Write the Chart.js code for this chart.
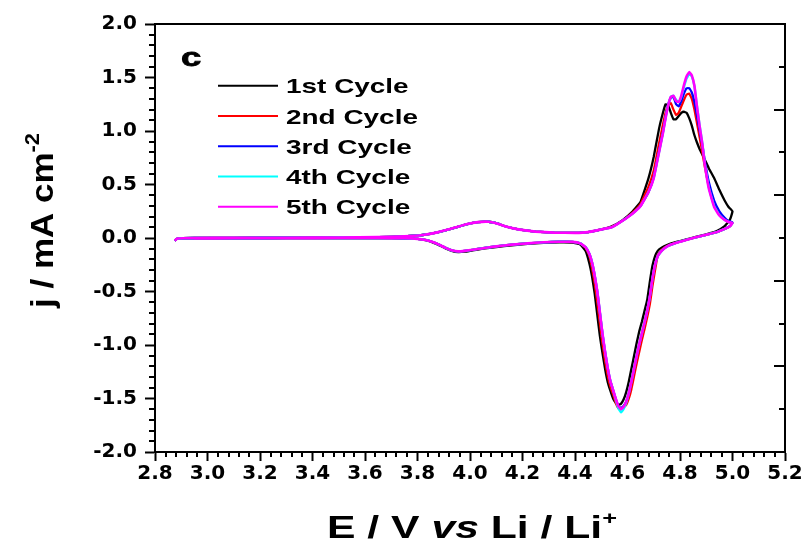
<!DOCTYPE html>
<html>
<head>
<meta charset="utf-8">
<script src="https://cdn.jsdelivr.net/npm/chart.js@4.4.1/dist/chart.umd.min.js"></script>
<style>
html,body{margin:0;padding:0;background:#fff;}
#wrap{width:807px;height:546px;position:relative;}
</style>
</head>
<body>
<div id="wrap"><canvas id="c"></canvas></div>
<script>
// ---- data (potential in V vs Li/Li+, current density in mA cm^-2) ----
const scanUp = [2.875,2.885,2.95,3.1,3.3,3.5,3.65,3.75,3.82,3.88,3.94,3.99,4.03,4.07,4.1,4.14,4.19,4.25,4.32,4.4,4.45,4.5,4.54,4.58,
  4.62,4.65,4.68,4.7,4.72,4.735,4.745,4.755,4.765,4.775,4.785,4.795,4.805,4.815,4.825,4.835,4.845,4.855,4.865,4.875,4.885,4.895,4.91,4.93,4.95,4.97,4.985,5.0];
const scanDown = [4.99,4.97,4.94,4.9,4.86,4.82,4.78,4.75,4.73,4.715,4.705,4.695,4.685,4.675,4.665,4.655,4.645,4.635,4.625,4.615,4.605,4.595,4.585,4.575,
  4.565,4.555,4.545,4.535,4.525,4.515,4.505,4.495,4.485,4.475,4.465,4.455,4.44,4.42,4.39,4.34,4.28,4.22,4.16,4.1,4.05,4.01,3.98,3.955,3.93,3.905,3.88,3.855,3.83,3.8,3.75,3.65,3.5,3.3,3.1,2.95];

const cycle1Up = [-0.025,-0.005,0.0,0.002,0.003,0.005,0.008,0.015,0.028,0.055,0.095,0.13,0.148,0.152,0.138,0.105,0.078,0.06,0.05,0.048,0.055,0.08,0.11,0.165,
  0.25,0.34,0.56,0.76,1.02,1.17,1.25,1.24,1.17,1.11,1.11,1.14,1.17,1.18,1.17,1.12,1.05,0.96,0.89,0.83,0.78,0.73,0.65,0.56,0.45,0.35,0.29,0.25];
const cycle1Down = [0.17,0.11,0.065,0.035,0.01,-0.015,-0.04,-0.065,-0.09,-0.12,-0.17,-0.26,-0.41,-0.58,-0.68,-0.78,-0.87,-0.98,-1.1,-1.22,-1.34,-1.44,-1.51,-1.55,
  -1.56,-1.54,-1.5,-1.43,-1.35,-1.23,-1.08,-0.92,-0.72,-0.52,-0.36,-0.24,-0.12,-0.06,-0.042,-0.04,-0.045,-0.055,-0.068,-0.085,-0.1,-0.115,-0.128,-0.132,-0.12,-0.095,-0.065,-0.038,-0.02,-0.009,-0.004,0.0,0.0,-0.002,-0.003,-0.004];

const cycle2Up = [-0.025,-0.005,0.0,0.002,0.003,0.005,0.008,0.015,0.028,0.055,0.095,0.13,0.148,0.152,0.138,0.105,0.078,0.06,0.05,0.048,0.055,0.08,0.105,0.16,
  0.24,0.32,0.48,0.63,0.88,1.06,1.17,1.24,1.26,1.2,1.15,1.17,1.23,1.29,1.34,1.35,1.3,1.2,1.07,0.94,0.8,0.66,0.48,0.31,0.22,0.175,0.15,0.14];
const cycle2Down = [0.11,0.085,0.055,0.03,0.006,-0.02,-0.048,-0.075,-0.11,-0.16,-0.3,-0.45,-0.62,-0.74,-0.85,-0.95,-1.06,-1.17,-1.29,-1.41,-1.5,-1.56,-1.58,-1.59,
  -1.59,-1.54,-1.46,-1.39,-1.29,-1.15,-0.99,-0.8,-0.6,-0.42,-0.28,-0.17,-0.09,-0.052,-0.036,-0.035,-0.04,-0.05,-0.062,-0.078,-0.095,-0.11,-0.12,-0.125,-0.115,-0.09,-0.06,-0.035,-0.018,-0.008,-0.003,0.0,0.0,-0.002,-0.003,-0.004];

const cycle3Up = [-0.025,-0.005,0.0,0.002,0.003,0.005,0.008,0.015,0.028,0.055,0.095,0.13,0.148,0.152,0.138,0.105,0.078,0.06,0.05,0.048,0.055,0.08,0.1,0.16,
  0.23,0.30,0.43,0.57,0.81,0.99,1.13,1.25,1.31,1.32,1.25,1.23,1.28,1.35,1.40,1.40,1.36,1.27,1.14,1.0,0.87,0.71,0.52,0.35,0.25,0.19,0.16,0.145];
const cycle3Down = [0.11,0.085,0.055,0.03,0.006,-0.02,-0.05,-0.08,-0.12,-0.17,-0.25,-0.38,-0.55,-0.68,-0.79,-0.89,-0.99,-1.1,-1.22,-1.34,-1.45,-1.53,-1.57,-1.59,
  -1.57,-1.5,-1.42,-1.34,-1.22,-1.07,-0.9,-0.7,-0.5,-0.35,-0.23,-0.15,-0.085,-0.05,-0.036,-0.035,-0.04,-0.05,-0.062,-0.078,-0.095,-0.11,-0.12,-0.125,-0.115,-0.09,-0.06,-0.035,-0.018,-0.008,-0.003,0.0,0.0,-0.002,-0.003,-0.004];

const cycle4Up = [-0.025,-0.005,0.0,0.002,0.003,0.005,0.008,0.015,0.028,0.055,0.095,0.13,0.148,0.152,0.138,0.105,0.078,0.06,0.05,0.048,0.055,0.08,0.1,0.16,
  0.23,0.30,0.43,0.56,0.8,0.98,1.12,1.24,1.32,1.33,1.29,1.27,1.32,1.41,1.49,1.53,1.51,1.42,1.23,1.05,0.89,0.69,0.47,0.3,0.215,0.17,0.15,0.14];
const cycle4Down = [0.11,0.085,0.055,0.03,0.006,-0.02,-0.05,-0.08,-0.12,-0.17,-0.25,-0.38,-0.55,-0.68,-0.79,-0.89,-0.99,-1.1,-1.22,-1.34,-1.45,-1.54,-1.6,-1.63,
  -1.59,-1.51,-1.42,-1.34,-1.22,-1.07,-0.9,-0.7,-0.5,-0.35,-0.23,-0.15,-0.085,-0.05,-0.036,-0.035,-0.04,-0.05,-0.062,-0.078,-0.095,-0.11,-0.12,-0.125,-0.115,-0.09,-0.06,-0.035,-0.018,-0.008,-0.003,0.0,0.0,-0.002,-0.003,-0.004];

const cycle5Up = [-0.025,-0.005,0.0,0.002,0.003,0.005,0.008,0.015,0.028,0.055,0.095,0.13,0.148,0.152,0.138,0.105,0.078,0.06,0.05,0.048,0.055,0.08,0.1,0.16,
  0.23,0.30,0.43,0.56,0.8,0.98,1.12,1.24,1.32,1.33,1.28,1.27,1.33,1.43,1.51,1.55,1.52,1.42,1.22,1.04,0.88,0.68,0.46,0.29,0.21,0.17,0.15,0.14];
const cycle5Down = [0.11,0.085,0.055,0.03,0.006,-0.02,-0.05,-0.08,-0.12,-0.17,-0.25,-0.38,-0.55,-0.68,-0.79,-0.89,-0.99,-1.1,-1.22,-1.34,-1.45,-1.53,-1.58,-1.6,
  -1.57,-1.5,-1.42,-1.34,-1.22,-1.07,-0.9,-0.7,-0.5,-0.35,-0.23,-0.15,-0.085,-0.05,-0.036,-0.035,-0.04,-0.05,-0.062,-0.078,-0.095,-0.11,-0.12,-0.125,-0.115,-0.09,-0.06,-0.035,-0.018,-0.008,-0.003,0.0,0.0,-0.002,-0.003,-0.004];

const seriesNames = ['1st Cycle','2nd Cycle','3rd Cycle','4th Cycle','5th Cycle'];
const seriesColors = ['#000000','#ff0000','#0000ff','#00ffff','#ff00ff'];
const xTickLabels = ['2.8','3.0','3.2','3.4','3.6','3.8','4.0','4.2','4.4','4.6','4.8','5.0','5.2'];
const yTickLabels = ['-2.0','-1.5','-1.0','-0.5','0.0','0.5','1.0','1.5','2.0'];

const cycles = [[cycle1Up,cycle1Down],[cycle2Up,cycle2Down],[cycle3Up,cycle3Down],[cycle4Up,cycle4Down],[cycle5Up,cycle5Down]];
const potentials = scanUp.concat(scanDown);

const datasets = cycles.map((c, i) => {
  const j = c[0].concat(c[1]);
  return {
    label: seriesNames[i],
    data: potentials.map((v, k) => ({x: v, y: j[k]})),
    borderColor: seriesColors[i],
    backgroundColor: seriesColors[i],
    borderWidth: i === 4 ? 2.6 : 2.3,
    pointRadius: 0,
    tension: 0.1,
    showLine: true,
    fill: false,
    order: 4 - i
  };
});

const FONT_T = '"Liberation Sans", Arial, sans-serif';

function drawParts(ctx, parts, targetWidth) {
  let total = 0;
  parts.forEach(p => { ctx.font = p.font; p.w = ctx.measureText(p.text).width; total += p.w; });
  const sx = targetWidth ? targetWidth / total : 1;
  ctx.scale(sx, 1);
  let cx = -total / 2;
  parts.forEach(p => { ctx.font = p.font; ctx.fillText(p.text, cx, p.dy || 0); cx += p.w; });
}

const decor = {
  id: 'decor',
  afterDraw(chart) {
    const ctx = chart.ctx;
    const xs = chart.scales.x, ys = chart.scales.y, y2 = chart.scales.y2;
    ctx.save();
    ctx.strokeStyle = '#000';
    ctx.lineWidth = 2;
    ctx.beginPath();
    // minor ticks on left axis (outward)
    for (let k = -20; k <= 20; k++) {
      if (k % 5 === 0) continue;
      const py = Math.round(ys.getPixelForValue(k / 10));
      ctx.moveTo(ys.right - 6, py); ctx.lineTo(ys.right, py);
    }
    // minor ticks on bottom axis (outward)
    for (let k = 0; k <= 60; k++) {
      if (k % 5 === 0) continue;
      const px = Math.round(xs.getPixelForValue(2.8 + 0.04 * k));
      ctx.moveTo(px, xs.top); ctx.lineTo(px, xs.top + 5);
    }
    // right axis ticks (inward)
    for (let k = 1; k <= 9; k++) {
      const py = Math.round(y2.getPixelForValue(k / 2));
      const len = (k % 2 === 0) ? 11 : 6;
      ctx.moveTo(y2.left - len, py); ctx.lineTo(y2.left, py);
    }
    ctx.stroke();

    // legend
    ctx.fillStyle = '#000';
    ctx.textBaseline = 'alphabetic';
    ctx.textAlign = 'left';
    const legY = [85.7, 116, 146.3, 176.5, 206.7];
    seriesNames.forEach((name, i) => {
      ctx.strokeStyle = seriesColors[i];
      ctx.lineWidth = 2;
      ctx.beginPath();
      ctx.moveTo(218, legY[i]); ctx.lineTo(278, legY[i]);
      ctx.stroke();
      ctx.save();
      ctx.translate(286, legY[i] + 7.5);
      ctx.font = 'bold 21px ' + FONT_T;
      ctx.scale(1.33, 1);
      ctx.fillText(name, 0, 0);
      ctx.restore();
    });
    // panel letter
    ctx.save();
    ctx.translate(181, 66);
    ctx.font = 'bold 26px ' + FONT_T;
    ctx.scale(1.4, 1);
    ctx.fillText('c', 0, 0);
    ctx.lineWidth = 0.8;
    ctx.strokeStyle = '#000';
    ctx.strokeText('c', 0, 0);
    ctx.restore();

    // x axis title
    ctx.save();
    ctx.translate(472, 538);
    drawParts(ctx, [
      {text: 'E / V ', font: 'bold 32px ' + FONT_T},
      {text: 'vs', font: 'italic bold 32px ' + FONT_T},
      {text: ' Li / Li', font: 'bold 32px ' + FONT_T},
      {text: '+', font: 'bold 19px ' + FONT_T, dy: -14}
    ], 290);
    ctx.restore();

    // y axis title
    ctx.save();
    ctx.translate(53, 220.5);
    ctx.rotate(-Math.PI / 2);
    drawParts(ctx, [
      {text: 'j / mA cm', font: 'bold 32px ' + FONT_T},
      {text: '-2', font: 'bold 20px ' + FONT_T, dy: -14}
    ], 175);
    ctx.restore();

    ctx.restore();
  }
};

const tickFont = {family: '"DejaVu Sans", sans-serif', size: 20, weight: 'bold'};

new Chart(document.getElementById('c'), {
  type: 'scatter',
  data: {datasets},
  options: {
    responsive: true,
    maintainAspectRatio: false,
    animation: false,
    events: [],
    layout: {padding: {left: 0, right: 0, top: 24, bottom: 0}},
    plugins: {legend: {display: false}, tooltip: {enabled: false}, title: {display: false}},
    scales: {
      x: {
        type: 'linear', position: 'bottom', min: 2.8, max: 5.2,
        afterFit(s) { s.height = 94; },
        afterBuildTicks(s) { s.ticks = xTickLabels.map(t => ({value: parseFloat(t)})); },
        ticks: {
          callback: (v) => xTickLabels.find(t => Math.abs(parseFloat(t) - v) < 1e-6) || '',
          font: tickFont, color: '#000', padding: 1, maxRotation: 0, autoSkip: false
        },
        grid: {drawOnChartArea: false, drawTicks: true, tickLength: 9, tickWidth: 2, tickColor: '#000'},
        border: {display: true, color: '#000', width: 2}
      },
      x2: {
        type: 'linear', position: 'top', min: 2.8, max: 5.2,
        afterFit(s) { s.height = 0; },
        ticks: {display: false},
        grid: {drawOnChartArea: false, drawTicks: false},
        border: {display: true, color: '#000', width: 2}
      },
      y: {
        type: 'linear', position: 'left', min: -2, max: 2,
        afterFit(s) { s.width = 155; },
        afterBuildTicks(s) { s.ticks = yTickLabels.map(t => ({value: parseFloat(t)})); },
        ticks: {
          callback: (v) => yTickLabels.find(t => Math.abs(parseFloat(t) - v) < 1e-6) || '',
          font: tickFont, color: '#000', padding: 8
        },
        grid: {drawOnChartArea: false, drawTicks: true, tickLength: 10, tickWidth: 2, tickColor: '#000'},
        border: {display: true, color: '#000', width: 2}
      },
      y2: {
        type: 'linear', position: 'right', min: 0, max: 5,
        afterFit(s) { s.width = 22; },
        ticks: {display: false},
        grid: {drawOnChartArea: false, drawTicks: false},
        border: {display: true, color: '#000', width: 2}
      }
    }
  },
  plugins: [decor]
});
</script>
</body>
</html>
